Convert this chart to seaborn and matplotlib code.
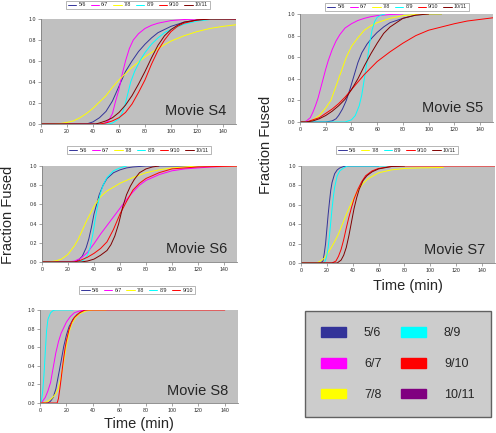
import matplotlib
matplotlib.use("Agg")
import matplotlib.pyplot as plt
from matplotlib.patches import Patch
import seaborn as sns
import pandas as pd

# fraction fused vs time (min); (t, fraction) pairs
pairs = ["5/6", "6/7", "7/8", "8/9", "9/10", "10/11"]

# Movie S4
s4_56 = [(0, 0), (35, 0), (40, 0.02), (45, 0.06), (50, 0.12), (55, 0.22), (60, 0.36), (65, 0.5), (70, 0.6),
         (75, 0.69), (80, 0.76), (85, 0.82), (90, 0.87), (100, 0.93), (110, 0.97), (120, 0.99), (130, 1.0), (150, 1.0)]
s4_67 = [(0, 0), (48, 0), (52, 0.03), (55, 0.1), (57, 0.2), (60, 0.33), (62, 0.45), (65, 0.6), (68, 0.72), (71, 0.8),
         (75, 0.86), (80, 0.91), (85, 0.94), (90, 0.96), (100, 0.985), (110, 0.995), (120, 1.0), (150, 1.0)]
s4_78 = [(0, 0), (10, 0), (15, 0.005), (20, 0.015), (25, 0.03), (30, 0.06), (35, 0.1), (40, 0.15), (45, 0.21),
         (50, 0.27), (55, 0.35), (60, 0.42), (65, 0.48), (70, 0.54), (75, 0.59), (80, 0.64), (90, 0.72), (100, 0.79),
         (110, 0.84), (120, 0.88), (130, 0.91), (140, 0.93), (150, 0.945)]
s4_89 = [(0, 0), (52, 0), (55, 0.01), (60, 0.05), (63, 0.12), (65, 0.2), (67, 0.3), (69, 0.4), (72, 0.5), (76, 0.6),
         (80, 0.68), (85, 0.76), (90, 0.82), (95, 0.87), (100, 0.9), (110, 0.95), (120, 0.98), (130, 0.995), (150, 1.0)]
s4_910 = [(0, 0), (45, 0), (50, 0.01), (55, 0.03), (60, 0.06), (65, 0.11), (70, 0.19), (75, 0.3), (80, 0.42),
          (85, 0.57), (90, 0.7), (95, 0.8), (100, 0.88), (105, 0.93), (110, 0.96), (120, 0.99), (130, 1.0), (150, 1.0)]
s4_1011 = [(0, 0), (42, 0), (45, 0.01), (50, 0.03), (55, 0.06), (60, 0.11), (65, 0.18), (70, 0.27), (75, 0.38),
           (80, 0.5), (85, 0.63), (90, 0.75), (95, 0.84), (100, 0.9), (105, 0.94), (110, 0.97), (120, 0.99),
           (130, 1.0), (150, 1.0)]

# Movie S5
s5_56 = [(0, 0), (20, 0), (25, 0.01), (28, 0.03), (30, 0.06), (33, 0.12), (36, 0.2), (39, 0.31), (42, 0.43),
         (45, 0.55), (48, 0.64), (52, 0.72), (56, 0.78), (60, 0.83), (65, 0.88), (70, 0.92), (80, 0.96), (90, 0.99),
         (100, 1.0), (110, 1.0)]
s5_67 = [(0, 0), (3, 0), (5, 0.01), (8, 0.04), (10, 0.09), (12, 0.15), (14, 0.22), (16, 0.31), (18, 0.4), (20, 0.49),
         (22, 0.57), (25, 0.67), (28, 0.75), (31, 0.81), (35, 0.87), (40, 0.91), (45, 0.94), (50, 0.96), (55, 0.975),
         (60, 0.985), (70, 0.995), (80, 1.0)]
s5_78 = [(0, 0), (5, 0), (8, 0.005), (10, 0.02), (15, 0.06), (20, 0.13), (24, 0.2), (27, 0.3), (30, 0.4), (33, 0.5),
         (36, 0.6), (40, 0.7), (45, 0.78), (50, 0.85), (55, 0.89), (60, 0.92), (70, 0.96), (80, 0.985), (90, 0.995),
         (100, 1.0), (110, 1.0)]
s5_89 = [(0, 0), (35, 0), (40, 0.02), (43, 0.06), (46, 0.15), (48, 0.25), (50, 0.4), (52, 0.55), (54, 0.72),
         (56, 0.85), (58, 0.93), (60, 0.97), (63, 0.99), (66, 1.0)]
s5_910 = [(0, 0), (5, 0), (10, 0.02), (15, 0.04), (20, 0.08), (25, 0.12), (30, 0.17), (35, 0.23), (40, 0.3),
          (45, 0.37), (50, 0.44), (55, 0.5), (60, 0.56), (70, 0.65), (80, 0.73), (90, 0.8), (100, 0.85), (110, 0.88),
          (120, 0.91), (130, 0.935), (140, 0.95), (150, 0.965)]
s5_1011 = [(0, 0), (5, 0), (10, 0.01), (15, 0.03), (20, 0.06), (25, 0.1), (30, 0.15), (35, 0.21), (40, 0.3),
           (45, 0.4), (50, 0.52), (55, 0.63), (60, 0.73), (65, 0.82), (70, 0.88), (75, 0.92), (80, 0.96), (90, 0.99),
           (100, 1.0)]

# Movie S6
s6_56 = [(0, 0), (25, 0), (28, 0.02), (31, 0.06), (34, 0.15), (36, 0.24), (38, 0.36), (40, 0.5), (42, 0.6),
         (44, 0.7), (47, 0.8), (50, 0.87), (55, 0.93), (60, 0.96), (65, 0.98), (70, 0.99), (80, 1.0), (150, 1.0)]
s6_67 = [(0, 0), (20, 0), (25, 0.01), (30, 0.04), (35, 0.1), (40, 0.19), (45, 0.29), (50, 0.38), (55, 0.47),
         (60, 0.56), (65, 0.65), (70, 0.73), (75, 0.8), (80, 0.85), (90, 0.91), (100, 0.95), (110, 0.97), (120, 0.98),
         (130, 0.99), (150, 1.0)]
s6_78 = [(0, 0), (5, 0), (10, 0.01), (15, 0.03), (20, 0.08), (25, 0.17), (28, 0.24), (31, 0.33), (34, 0.42),
         (37, 0.5), (40, 0.58), (45, 0.68), (50, 0.74), (55, 0.78), (60, 0.82), (70, 0.88), (80, 0.93), (90, 0.96),
         (100, 0.98), (110, 0.99), (120, 1.0), (150, 1.0)]
s6_89 = [(0, 0), (28, 0), (32, 0.02), (35, 0.07), (37, 0.15), (39, 0.28), (41, 0.45), (43, 0.6), (45, 0.72),
         (47, 0.8), (50, 0.88), (55, 0.95), (60, 0.98), (65, 1.0)]
s6_910 = [(0, 0), (25, 0), (30, 0.02), (35, 0.05), (40, 0.09), (45, 0.14), (50, 0.21), (55, 0.34), (60, 0.5),
          (65, 0.63), (70, 0.75), (75, 0.82), (80, 0.87), (90, 0.93), (100, 0.97), (110, 0.98), (120, 0.99),
          (150, 1.0)]
s6_1011 = [(0, 0), (30, 0), (35, 0.01), (40, 0.03), (45, 0.07), (50, 0.12), (53, 0.18), (56, 0.27), (59, 0.4),
           (62, 0.57), (65, 0.7), (68, 0.79), (71, 0.86), (75, 0.93), (80, 0.97), (85, 0.99), (90, 1.0)]

# Movie S7 (no 6/7)
s7_56 = [(0, 0), (15, 0), (17, 0.02), (18, 0.1), (19, 0.2), (20, 0.35), (21, 0.5), (22, 0.63), (23, 0.75),
         (24, 0.83), (26, 0.92), (28, 0.96), (30, 0.98), (33, 0.995), (36, 1.0), (60, 1.0)]
s7_78 = [(0, 0), (12, 0), (15, 0.02), (18, 0.05), (20, 0.09), (23, 0.15), (26, 0.22), (29, 0.3), (32, 0.4),
         (35, 0.5), (38, 0.59), (41, 0.67), (44, 0.75), (48, 0.82), (52, 0.87), (56, 0.9), (60, 0.93), (70, 0.96),
         (80, 0.975), (90, 0.98), (110, 0.985)]
s7_89 = [(0, 0), (18, 0), (19, 0.03), (20, 0.08), (21, 0.16), (22, 0.28), (23, 0.42), (24, 0.56), (25, 0.68),
         (26, 0.78), (28, 0.9), (30, 0.95), (33, 0.98), (36, 1.0), (80, 1.0)]
s7_910 = [(0, 0), (24, 0), (27, 0.02), (29, 0.07), (31, 0.14), (33, 0.24), (35, 0.36), (37, 0.47), (39, 0.57),
          (41, 0.66), (44, 0.76), (47, 0.84), (50, 0.9), (55, 0.95), (60, 0.975), (70, 0.995), (80, 1.0), (150, 1.0)]
s7_1011 = [(0, 0), (28, 0), (31, 0.03), (33, 0.08), (35, 0.16), (37, 0.28), (39, 0.42), (41, 0.56), (43, 0.67),
           (45, 0.76), (48, 0.85), (51, 0.9), (55, 0.94), (60, 0.97), (70, 0.995), (80, 1.0)]

# Movie S8 (no 10/11)
s8_56 = [(0, 0), (6, 0), (8, 0.02), (10, 0.06), (12, 0.15), (14, 0.3), (16, 0.45), (18, 0.61), (20, 0.73),
         (22, 0.82), (25, 0.9), (28, 0.95), (32, 0.99), (36, 1.0)]
s8_67 = [(0, 0), (2, 0.02), (4, 0.06), (6, 0.13), (8, 0.22), (10, 0.38), (12, 0.54), (14, 0.66), (16, 0.75),
         (18, 0.81), (20, 0.87), (23, 0.93), (26, 0.97), (30, 0.99), (35, 1.0)]
s8_78 = [(0, 0), (3, 0), (6, 0.02), (9, 0.05), (12, 0.1), (14, 0.16), (16, 0.28), (18, 0.45), (20, 0.62),
         (22, 0.76), (24, 0.85), (27, 0.92), (30, 0.96), (35, 0.99), (40, 1.0), (50, 1.0)]
s8_89 = [(0, 0), (1, 0.02), (2, 0.12), (3, 0.3), (4, 0.55), (5, 0.78), (6, 0.9), (8, 0.97), (10, 0.995),
         (12, 1.0), (25, 1.0)]
s8_910 = [(0, 0), (13, 0), (14, 0.05), (15, 0.15), (16, 0.26), (17, 0.38), (18, 0.49), (19, 0.59), (20, 0.67),
          (22, 0.79), (24, 0.87), (26, 0.92), (30, 0.97), (34, 1.0), (140, 1.0)]

line_colors = {"5/6": "#333399", "6/7": "#FF00FF", "7/8": "#FFFF00",
               "8/9": "#00FFFF", "9/10": "#FF0000", "10/11": "#800000"}
box_colors = ["#333399", "#FF00FF", "#FFFF00", "#00FFFF", "#FF0000", "#800080"]

panels = [
    ("Movie S4", dict(zip(pairs, [s4_56, s4_67, s4_78, s4_89, s4_910, s4_1011]))),
    ("Movie S5", dict(zip(pairs, [s5_56, s5_67, s5_78, s5_89, s5_910, s5_1011]))),
    ("Movie S6", dict(zip(pairs, [s6_56, s6_67, s6_78, s6_89, s6_910, s6_1011]))),
    ("Movie S7", {"5/6": s7_56, "7/8": s7_78, "8/9": s7_89, "9/10": s7_910, "10/11": s7_1011}),
    ("Movie S8", {"5/6": s8_56, "6/7": s8_67, "7/8": s8_78, "8/9": s8_89, "9/10": s8_910}),
]

W, H = 496, 433
# axes boxes in pixels: left, top, right, bottom ; legend centre
ax_px = [(41, 19, 236, 124), (300, 14, 493, 122), (42, 166, 237, 262), (301, 166, 495, 263), (40, 310, 238, 403)]
leg_px = [(138, 5), (397, 7), (139, 150), (397, 150), (137, 290)]

sns.set_theme(style="ticks")
plt.rcParams["font.family"] = ["Liberation Sans", "DejaVu Sans"]

fig = plt.figure(figsize=(W / 100, H / 100), dpi=100)

for (title, series), (l, t, r, b), (lx, ly) in zip(panels, ax_px, leg_px):
    ax = fig.add_axes([l / W, 1 - b / H, (r - l) / W, (b - t) / H])
    rows = []
    for name, pts in series.items():
        for tt, ff in pts:
            rows.append({"t": tt, "frac": ff, "pair": name})
    df = pd.DataFrame(rows)
    sns.lineplot(data=df, x="t", y="frac", hue="pair", hue_order=list(series.keys()),
                 palette=line_colors, linewidth=0.7, ax=ax, sort=True, estimator=None)
    ax.set_facecolor("#C0C0C0")
    ax.set_xlim(0, 150)
    ax.set_ylim(0, 1.0)
    ax.set_xticks(range(0, 150, 20))
    ax.set_yticks([0, 0.2, 0.4, 0.6, 0.8, 1.0])
    ax.set_yticklabels([f"{v:.1f}" for v in [0, 0.2, 0.4, 0.6, 0.8, 1.0]])
    ax.tick_params(labelsize=3.8, length=2, width=0.5, color="#808080", pad=1.5)
    ax.set_xlabel("")
    ax.set_ylabel("")
    for s in ["top", "right"]:
        ax.spines[s].set_visible(False)
    for s in ["left", "bottom"]:
        ax.spines[s].set_color("#808080")
        ax.spines[s].set_linewidth(0.6)
    ax.text(0.95, 0.09, title, transform=ax.transAxes, ha="right", va="baseline", fontsize=10.5)
    leg = ax.legend(loc="center", bbox_to_anchor=(lx / W, 1 - ly / H), bbox_transform=fig.transFigure,
                    ncol=len(series), fontsize=3.8, handlelength=1.6, handletextpad=0.4, columnspacing=0.9,
                    borderpad=0.35, frameon=True, fancybox=False, edgecolor="#808080", facecolor="white")
    leg.get_frame().set_linewidth(0.5)
    for ln in leg.get_lines():
        ln.set_linewidth(0.7)

fig.text(8 / W, 1 - 215 / H, "Fraction Fused", rotation=90, ha="center", va="center", fontsize=10.5)
fig.text(266 / W, 1 - 145 / H, "Fraction Fused", rotation=90, ha="center", va="center", fontsize=10.5)
fig.text(408 / W, 1 - 286 / H, "Time (min)", ha="center", va="center", fontsize=10.5)
fig.text(139 / W, 1 - 424 / H, "Time (min)", ha="center", va="center", fontsize=10.5)

handles = [Patch(facecolor=c, edgecolor=c) for c in box_colors]
big = fig.legend(handles, pairs, loc="center", bbox_to_anchor=(398 / W, 1 - 364 / H), ncol=2, fontsize=9,
                 handlelength=2.0, handleheight=0.8, handletextpad=1.4, labelspacing=1.5, columnspacing=1.6,
                 borderpad=1.3, frameon=True, fancybox=False, facecolor="#C0C0C0", edgecolor="#404040")
big.get_frame().set_linewidth(1.0)

fig.savefig("out.png", dpi=100)
